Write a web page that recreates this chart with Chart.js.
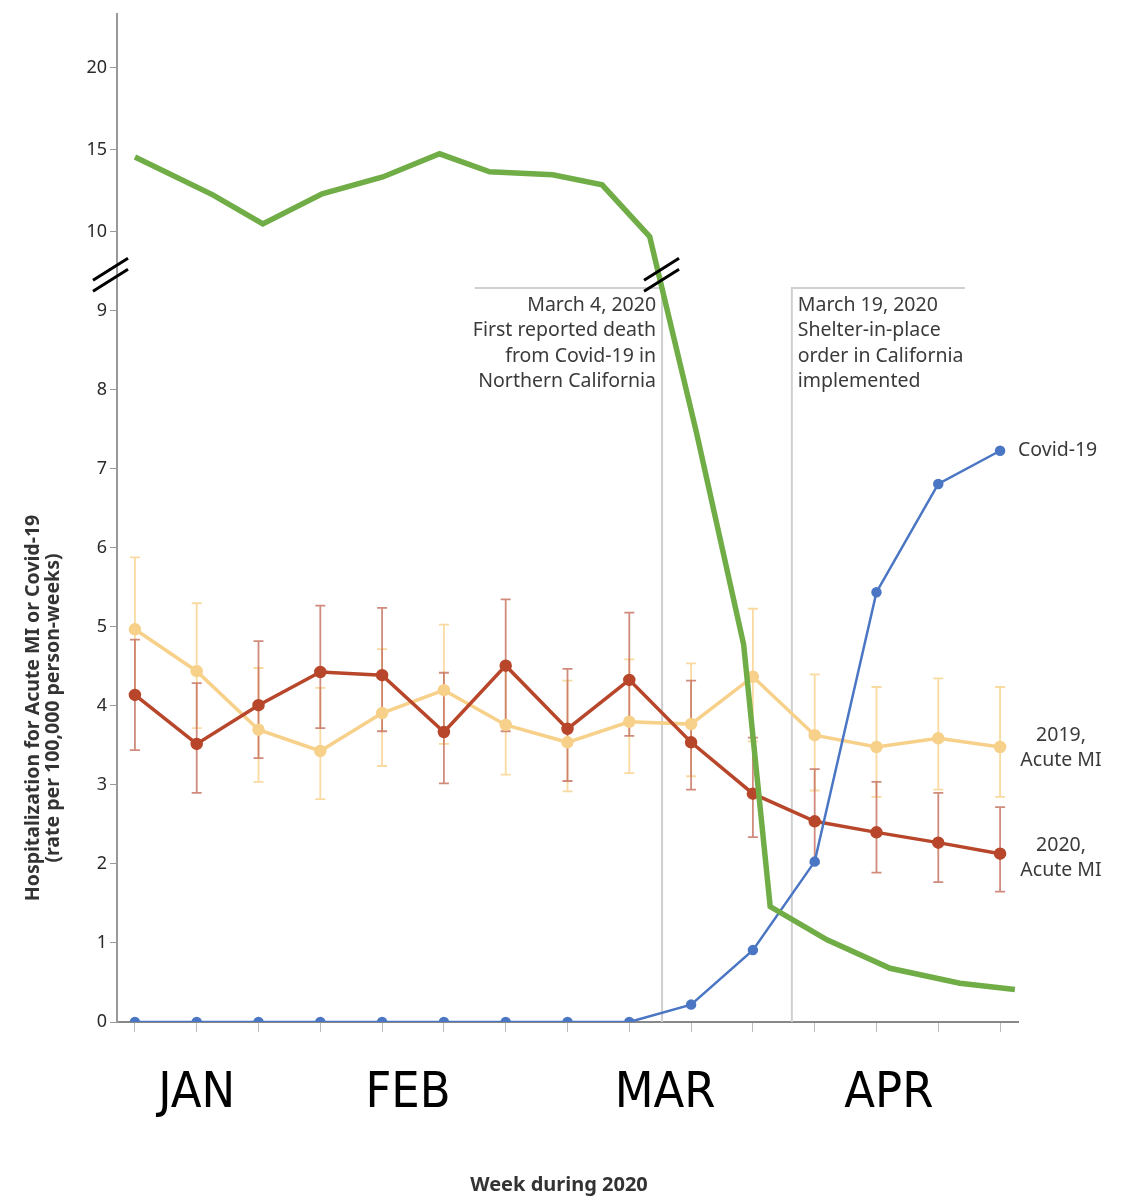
<!DOCTYPE html>
<html>
<head>
<meta charset="utf-8">
<script src="https://cdn.jsdelivr.net/npm/chart.js@4.4.1/dist/chart.umd.min.js"></script>
<style>
  html, body { margin: 0; padding: 0; background: #fff; }
  #wrap { width: 1125px; height: 1197px; position: relative; }
</style>
</head>
<body>
<div id="wrap"><canvas id="chart"></canvas></div>
<script>
// weekly points, Jan to Apr 2020
const weeks = [0, 1, 2, 3, 4, 5, 6, 7, 8, 9, 10, 11, 12, 13, 14];

const ami2019 = [4.97, 4.44, 3.70, 3.43, 3.91, 4.20, 3.76, 3.54, 3.80, 3.77, 4.37, 3.63, 3.48, 3.59, 3.48];
const ami2019Low = [4.16, 3.72, 3.04, 2.82, 3.24, 3.52, 3.13, 2.92, 3.15, 3.11, 3.55, 2.93, 2.85, 2.94, 2.85];
const ami2019High = [5.88, 5.30, 4.48, 4.23, 4.72, 5.03, 4.48, 4.32, 4.59, 4.54, 5.23, 4.40, 4.24, 4.35, 4.24];

const ami2020 = [4.14, 3.52, 4.01, 4.43, 4.39, 3.67, 4.51, 3.71, 4.33, 3.54, 2.89, 2.54, 2.40, 2.27, 2.13];
const ami2020Low = [3.44, 2.90, 3.34, 3.72, 3.68, 3.02, 3.68, 3.05, 3.62, 2.94, 2.34, 2.01, 1.89, 1.77, 1.65];
const ami2020High = [4.84, 4.29, 4.82, 5.27, 5.24, 4.42, 5.35, 4.47, 5.18, 4.32, 3.60, 3.20, 3.04, 2.90, 2.72];

const covid = [0, 0, 0, 0, 0, 0, 0, 0, 0, 0.22, 0.91, 2.03, 5.44, 6.81, 7.23];

// green overlay line (not on the weekly grid)
const greenX = [0, 1.26, 2.07, 3.03, 4.01, 4.93, 5.74, 6.76, 7.56, 8.33, 9.09, 9.85, 10.28, 11.2, 12.22, 13.35, 14.24];
const greenY = [14.57, 12.26, 10.49, 12.32, 13.35, 14.76, 13.66, 13.48, 12.87, 9.94, 7.45, 4.78, 1.46, 1.04, 0.68, 0.49, 0.41];

const yTickValues = [0, 1, 2, 3, 4, 5, 6, 7, 8, 9, 10, 15, 20];
const yTickLabels = ["0", "1", "2", "3", "4", "5", "6", "7", "8", "9", "10", "15", "20"];

const monthLabels = ["JAN", "FEB", "MAR", "APR"];
const monthPos = [1, 4.42, 8.58, 12.2];

// broken axis: above 10 the scale is squeezed
const squeeze = 16.4 / 79;
function tr(v) {
    return v <= 10 ? v : 10 + (v - 10) * squeeze;
}

function pts(xs, ys) {
    return xs.map((x, i) => ({ x: x, y: tr(ys[i]) }));
}

const sans = "'Noto Sans', 'Open Sans', sans-serif";

const overlay = {
    id: "overlay",
    beforeDatasetsDraw(chart) {
        const ctx = chart.ctx;
        const xs = chart.scales.x, ys = chart.scales.y;
        const area = chart.chartArea;
        ctx.save();

        // event markers
        const top = ys.getPixelForValue(9.29);
        ctx.strokeStyle = "#cfcfcf";
        ctx.lineWidth = 2;
        const x1 = xs.getPixelForValue(8.53), x2 = xs.getPixelForValue(10.63);
        ctx.beginPath();
        ctx.moveTo(xs.getPixelForValue(5.5), top);
        ctx.lineTo(x1, top);
        ctx.lineTo(x1, area.bottom);
        ctx.moveTo(xs.getPixelForValue(13.43), top);
        ctx.lineTo(x2, top);
        ctx.lineTo(x2, area.bottom);
        ctx.stroke();

        // error bars
        function bars(lo, hi, color) {
            ctx.strokeStyle = color;
            ctx.lineWidth = 1.8;
            weeks.forEach((w, i) => {
                const px = xs.getPixelForValue(w);
                const a = ys.getPixelForValue(lo[i]), b = ys.getPixelForValue(hi[i]);
                ctx.beginPath();
                ctx.moveTo(px, a); ctx.lineTo(px, b);
                ctx.moveTo(px - 5, a); ctx.lineTo(px + 5, a);
                ctx.moveTo(px - 5, b); ctx.lineTo(px + 5, b);
                ctx.stroke();
            });
        }
        bars(ami2019Low, ami2019High, "rgba(248, 214, 150, 0.9)");
        bars(ami2020Low, ami2020High, "rgba(196, 110, 92, 0.8)");
        ctx.restore();
    },
    afterDatasetsDraw(chart) {
        const ctx = chart.ctx;
        const xs = chart.scales.x, ys = chart.scales.y;
        const area = chart.chartArea;
        ctx.save();

        // axis break marks
        ctx.strokeStyle = "#000";
        ctx.lineWidth = 3;
        const by = ys.getPixelForValue(9.45);
        [area.left - 6, xs.getPixelForValue(8.53)].forEach(cx => {
            ctx.beginPath();
            ctx.moveTo(cx - 18, by + 5); ctx.lineTo(cx + 17, by - 17);
            ctx.moveTo(cx - 18, by + 16); ctx.lineTo(cx + 17, by - 6);
            ctx.stroke();
        });

        // annotation texts
        const top = ys.getPixelForValue(9.29);
        ctx.fillStyle = "#3a3a3a";
        ctx.font = "19.5px " + sans;
        ctx.textBaseline = "middle";
        ctx.textAlign = "right";
        const a1 = ["March 4, 2020", "First reported death", "from Covid-19 in", "Northern California"];
        a1.forEach((t, i) => ctx.fillText(t, xs.getPixelForValue(8.53) - 6, top + 17 + i * 25.5));
        ctx.textAlign = "left";
        const a2 = ["March 19, 2020", "Shelter-in-place", "order in California", "implemented"];
        a2.forEach((t, i) => ctx.fillText(t, xs.getPixelForValue(10.63) + 6, top + 17 + i * 25.5));

        // series labels
        ctx.fillText("Covid-19", area.right, ys.getPixelForValue(covid[14]));
        ctx.textAlign = "center";
        const lx = area.right + 43;
        ctx.fillText("2019,", lx, ys.getPixelForValue(3.63));
        ctx.fillText("Acute MI", lx, ys.getPixelForValue(3.31));
        ctx.fillText("2020,", lx, ys.getPixelForValue(2.24));
        ctx.fillText("Acute MI", lx, ys.getPixelForValue(1.92));

        // month labels
        ctx.fillStyle = "#000";
        ctx.font = "50px 'Liberation Sans Narrow', 'DejaVu Sans Condensed', sans-serif";
        monthLabels.forEach((m, i) => ctx.fillText(m, xs.getPixelForValue(monthPos[i]), area.bottom + 72));

        // x title
        ctx.fillStyle = "#333";
        ctx.font = "bold 20px " + sans;
        ctx.fillText("Week during 2020", 559, area.bottom + 163);

        // y title
        ctx.font = "bold 19.5px " + sans;
        ctx.translate(0, 708);
        ctx.rotate(-Math.PI / 2);
        ctx.fillText("Hospitalization for Acute MI or Covid-19", 0, 33);
        ctx.fillText("(rate per 100,000 person-weeks)", 0, 53);
        ctx.restore();
    }
};

new Chart(document.getElementById("chart"), {
    type: "line",
    data: {
        datasets: [
            {
                label: "Green",
                data: pts(greenX, greenY),
                borderColor: "#70ad47",
                borderWidth: 5.5,
                pointRadius: 0,
                tension: 0
            },
            {
                label: "Covid-19",
                data: pts(weeks, covid),
                borderColor: "#4a76c4",
                backgroundColor: "#4a76c4",
                borderWidth: 2.5,
                pointRadius: 4,
                tension: 0
            },
            {
                label: "2020, Acute MI",
                data: pts(weeks, ami2020),
                borderColor: "#b8462b",
                backgroundColor: "#b8462b",
                borderWidth: 3.5,
                pointRadius: 4.5,
                tension: 0
            },
            {
                label: "2019, Acute MI",
                data: pts(weeks, ami2019),
                borderColor: "#f7d08a",
                backgroundColor: "#f7d08a",
                borderWidth: 3.5,
                pointRadius: 4.5,
                tension: 0
            }
        ]
    },
    options: {
        responsive: true,
        maintainAspectRatio: false,
        animation: false,
        layout: { padding: { left: 0, right: 107, top: 0, bottom: 0 } },
        plugins: {
            legend: { display: false },
            tooltip: { enabled: false }
        },
        scales: {
            x: {
                type: "linear",
                min: -0.29,
                max: 14.29,
                afterBuildTicks: s => { s.ticks = weeks.map(w => ({ value: w })); },
                afterFit: s => { s.height = 175; },
                ticks: { autoSkip: false, callback: () => "" },
                grid: { drawOnChartArea: false, drawTicks: true, tickLength: 10, color: "#bbb" },
                border: { color: "#888", width: 2 }
            },
            y: {
                type: "linear",
                min: 0,
                max: 12.76,
                afterBuildTicks: s => { s.ticks = yTickValues.map(v => ({ value: tr(v) })); },
                afterFit: s => { s.width = 117; },
                ticks: {
                    color: "#2a2a2a",
                    font: { family: sans, size: 18 },
                    padding: 3,
                    callback: (v, i) => yTickLabels[i]
                },
                grid: { drawOnChartArea: false, drawTicks: true, tickLength: 7, color: "#999" },
                border: { color: "#999", width: 2 }
            }
        }
    },
    plugins: [overlay]
});
</script>
</body>
</html>
